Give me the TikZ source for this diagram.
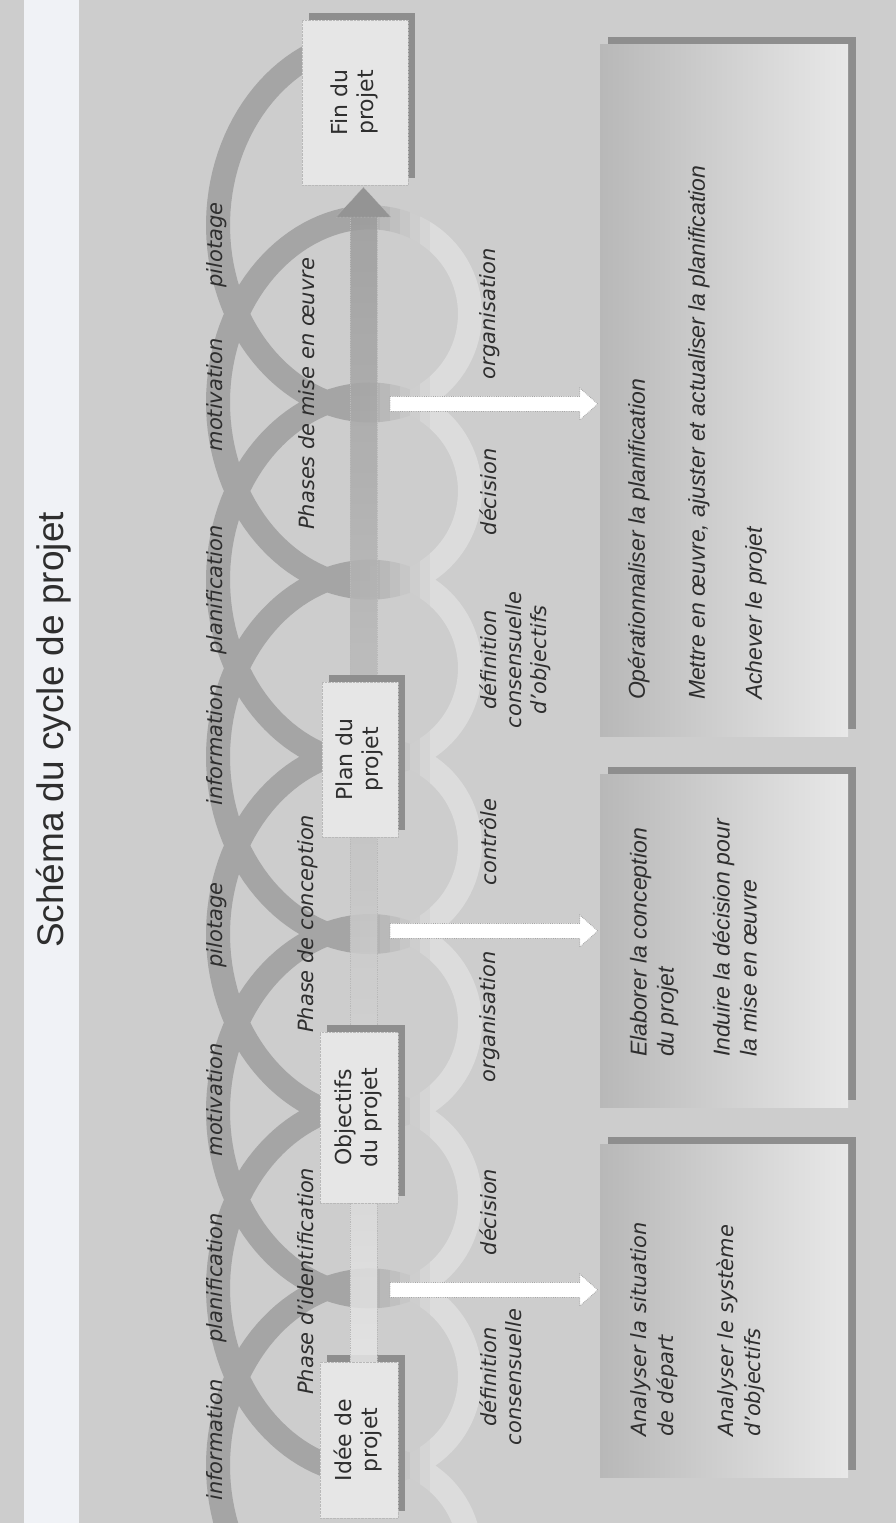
\documentclass[tikz,border=0pt]{standalone}
\usepackage{graphicx}
\usepackage{fontspec}
\setmainfont{DejaVu Sans}
\newfontfamily\titrefont{Liberation Sans}
\newfontfamily\arialfont{Liberation Sans}
\usepackage{tikz}
\usetikzlibrary{calc,shadows}
\definecolor{fond}{HTML}{CDCDCD}
\definecolor{bandeau}{HTML}{F0F2F6}
\definecolor{ink}{HTML}{2E2E2E}
\definecolor{rubanfonce}{HTML}{A5A5A5}
\definecolor{rubanclair}{HTML}{DCDCDC}
\definecolor{boite}{HTML}{E6E6E6}
\definecolor{ombre}{HTML}{8E8E8E}
\definecolor{tigeclair}{HTML}{E6E6E6}
\definecolor{tigefonce}{HTML}{9C9C9C}
\definecolor{panfonce}{HTML}{B8B8B8}
\definecolor{panclair}{HTML}{E8E8E8}
\newcommand{\tourne}[1]{\rotatebox{90}{\begin{tabular}{@{}c@{}}#1\end{tabular}}}

\begin{document}
\begin{tikzpicture}[x=1pt, y=1pt,
  etape/.style={fill=boite, draw=gray!55, densely dotted, inner sep=0pt, text=ink,
                font=\fontsize{22}{26}\selectfont,
                drop shadow={shadow xshift=7pt, shadow yshift=7pt, fill=ombre, opacity=1}},
  panneau/.style={left color=panfonce, right color=panclair, inner sep=0pt,
                  minimum width=248, minimum height=333,
                  drop shadow={shadow xshift=8pt, shadow yshift=8pt, fill=ombre, opacity=1}},
  mot/.style={rotate=90, inner sep=0pt, text=ink, align=center,
              font=\fontsize{21}{25}\selectfont\itshape},
  texte/.style={rotate=90, inner sep=0pt, text=ink, align=left, anchor=north west},
  ruban/.style={line width=24pt, line cap=butt},
  pointille/.style={gray!55, densely dotted, line width=0.8pt},
  creuse/.style={fill=white, draw=gray!70, densely dotted, line width=0.8pt}]
  \useasboundingbox (0,0) rectangle (896,1523);
  \fill[fond] (0,0) rectangle (896,1523);
  \fill[bandeau] (24,0) rectangle (79,1523);
  \node[rotate=90, anchor=base, inner sep=0pt, text=ink,
        font=\titrefont\fontsize{37}{44}\selectfont] (titre) at (63,793) {Schéma du cycle de projet};

  % spirale
  \foreach \xa/\xb/\p in {100/360/100, 360/370/88, 370/380/75, 380/390/63, 390/400/50,
                          400/410/38, 410/420/25, 420/430/13, 430/620/0}{
    \begin{scope}
      \clip (\xa,0) rectangle (\xb,1523);
      \draw[ruban, draw=rubanfonce!\p!rubanclair]
        plot[domain=-7.88:42.34, samples=900, variable=\t]
        ({344+126*cos(\t r)}, {146+28.2*\t-138*sin(\t r)});
    \end{scope}
  }

  \node[etape, minimum width=78, minimum height=156] (idee) at (359,83) {\tourne{Idée de\\projet}};
  \node[etape, minimum width=106, minimum height=165] (fin) at (355,1420.5) {\tourne{Fin du\\projet}};

  \coordinate (axeA) at ($(idee.north)+(4.5,0)$);
  \coordinate (axeB) at (fin.south -| axeA);
  \shade[bottom color=tigeclair, top color=tigefonce, opacity=0.85]
    ($(axeA)+(-13.5,0)$) rectangle ($(axeB)+(13.5,-32)$);
  \draw[pointille] ($(axeA)+(-13.5,0)$) -- ($(axeB)+(-13.5,-32)$);
  \draw[pointille] ($(axeA)+(13.5,0)$) -- ($(axeB)+(13.5,-32)$);
  \filldraw[fill=tigefonce!95!black, draw=gray!40, densely dotted]
    ($(axeB)+(-27.5,-32)$) -- ($(axeB)+(0,-2)$) -- ($(axeB)+(27.5,-32)$) -- cycle;

  \node[etape, minimum width=78, minimum height=171] (objectifs) at (359,405.5) {\tourne{Objectifs\\du projet}};
  \node[etape, minimum width=76, minimum height=155] (plan) at (360,763.5) {\tourne{Plan du\\projet}};

  \node[mot, anchor=base] (m1) at (222,83) {information};
  \node[mot, anchor=base] (m2) at (222,245) {planification};
  \node[mot, anchor=base] (m3) at (222,423) {motivation};
  \node[mot, anchor=base] (m4) at (222,598) {pilotage};
  \node[mot, anchor=base] (m5) at (222,778) {information};
  \node[mot, anchor=base] (m6) at (222,933) {planification};
  \node[mot, anchor=base] (m7) at (222,1128) {motivation};
  \node[mot, anchor=base] (m8) at (222,1278) {pilotage};

  \node[mot, anchor=base west] (ph1) at (313,128) {Phase d'identification};
  \node[mot, anchor=base west] (ph2) at (313,490) {Phase de conception};
  \node[mot, anchor=base west] (ph3) at (314,993) {Phases de mise en œuvre};

  \node[mot, anchor=north] (b1) at (479,146) {définition\\consensuelle};
  \node[mot, anchor=north] (b2) at (479,311) {décision};
  \node[mot, anchor=north] (b3) at (479,506) {organisation};
  \node[mot, anchor=north] (b4) at (479,681) {contrôle};
  \node[mot, anchor=north] (b5) at (479,863) {définition\\consensuelle\\d'objectifs};
  \node[mot, anchor=north] (b6) at (479,1031) {décision};
  \node[mot, anchor=north] (b7) at (479,1209) {organisation};

  \node[panneau] (analyse) at (724,211.5) {};
  \node[panneau] (elabore) at (724,581.5) {};
  \node[panneau, minimum height=692] (operer) at (724,1132) {};

  \node[texte, font=\fontsize{21}{27}\selectfont\itshape] (ta) at ($(analyse.south west)+(31,41)$)
    {Analyser la situation\\de départ\\[33pt]Analyser le système\\d'objectifs};
  \node[texte, font=\arialfont\fontsize{23}{27}\selectfont\itshape] (te) at ($(elabore.south west)+(30,51)$)
    {Elaborer la conception\\du projet\\[29pt]Induire la décision pour\\la mise en œuvre};
  \node[texte, font=\arialfont\fontsize{23}{27}\selectfont\itshape] (to) at ($(operer.south west)+(28,37)$)
    {Opérationnaliser la planification\\[33pt]Mettre en œuvre, ajuster et actualiser la planification\\[30pt]Achever le projet};

  \coordinate (d1) at (390,233);
  \coordinate (d2) at (390,592);
  \coordinate (d3) at (390,1119);
  \foreach \d/\b in {d1/analyse, d2/elabore, d3/operer}
    \draw[creuse] ($(\d)+(0,7.5)$) -- ($(\d -| \b.west)+(-20,7.5)$) -- ($(\d -| \b.west)+(-20,16)$)
      -- ($(\d -| \b.west)+(-2,0)$) -- ($(\d -| \b.west)+(-20,-16)$) -- ($(\d -| \b.west)+(-20,-7.5)$)
      -- ($(\d)+(0,-7.5)$) -- cycle;
\end{tikzpicture}
\end{document}
